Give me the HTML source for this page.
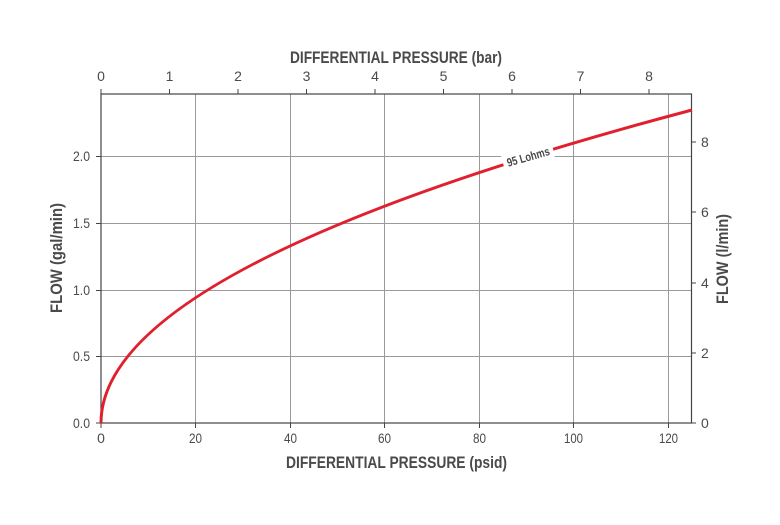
<!DOCTYPE html>
<html><head><meta charset="utf-8"><style>
html,body{margin:0;padding:0;background:#fff;}
svg text{font-family:"Liberation Sans Narrow","Liberation Sans",sans-serif;fill:#4a4a4a;}
</style></head><body>
<svg width="780" height="520" viewBox="0 0 780 520" xmlns="http://www.w3.org/2000/svg">
<g stroke="#9a9a9a" stroke-width="1">
<line x1="195.5" y1="94" x2="195.5" y2="423"/><line x1="290.5" y1="94" x2="290.5" y2="423"/>
<line x1="384.5" y1="94" x2="384.5" y2="423"/><line x1="479.5" y1="94" x2="479.5" y2="423"/>
<line x1="573.5" y1="94" x2="573.5" y2="423"/><line x1="668.5" y1="94" x2="668.5" y2="423"/>
<line x1="101" y1="356.5" x2="691" y2="356.5"/><line x1="101" y1="290.5" x2="691" y2="290.5"/>
<line x1="101" y1="223.5" x2="691" y2="223.5"/><line x1="101" y1="156.5" x2="691" y2="156.5"/>
</g>
<rect x="101" y="94" width="590.5" height="329" fill="none" stroke="#444" stroke-width="1.2"/>
<g stroke="#444" stroke-width="1">
<line x1="101" y1="423" x2="101" y2="428"/><line x1="195.5" y1="423" x2="195.5" y2="428"/><line x1="290.5" y1="423" x2="290.5" y2="428"/><line x1="384.5" y1="423" x2="384.5" y2="428"/><line x1="479.5" y1="423" x2="479.5" y2="428"/><line x1="573.5" y1="423" x2="573.5" y2="428"/><line x1="668.5" y1="423" x2="668.5" y2="428"/>
<line x1="96" y1="423" x2="101" y2="423"/><line x1="96" y1="356.5" x2="101" y2="356.5"/><line x1="96" y1="290.5" x2="101" y2="290.5"/><line x1="96" y1="223.5" x2="101" y2="223.5"/><line x1="96" y1="156.5" x2="101" y2="156.5"/>
<line x1="101" y1="89" x2="101" y2="94"/><line x1="169.5" y1="89" x2="169.5" y2="94"/><line x1="238" y1="89" x2="238" y2="94"/><line x1="306.5" y1="89" x2="306.5" y2="94"/><line x1="375" y1="89" x2="375" y2="94"/><line x1="443.5" y1="89" x2="443.5" y2="94"/><line x1="512" y1="89" x2="512" y2="94"/><line x1="580.5" y1="89" x2="580.5" y2="94"/><line x1="649" y1="89" x2="649" y2="94"/>
<line x1="691" y1="423" x2="696" y2="423"/><line x1="691" y1="353" x2="696" y2="353"/><line x1="691" y1="283" x2="696" y2="283"/><line x1="691" y1="212" x2="696" y2="212"/><line x1="691" y1="142" x2="696" y2="142"/>
</g>
<path d="M101,423 Q101,266.5 692,110" fill="none" stroke="#e0202e" stroke-width="3"/>
<g transform="translate(528,156) rotate(-16)">
<rect x="-26" y="-9" width="52" height="17" fill="#fff"/>
<text x="-22" y="5" font-size="12" font-weight="bold" textLength="44" lengthAdjust="spacingAndGlyphs">95 Lohms</text>
</g>
<g font-size="14" text-anchor="middle">
<text x="101" y="443">0</text><text x="195.5" y="443" textLength="13" lengthAdjust="spacingAndGlyphs">20</text><text x="290.5" y="443" textLength="13" lengthAdjust="spacingAndGlyphs">40</text><text x="384.5" y="443" textLength="13" lengthAdjust="spacingAndGlyphs">60</text><text x="479.5" y="443" textLength="13" lengthAdjust="spacingAndGlyphs">80</text><text x="573.5" y="443" textLength="19" lengthAdjust="spacingAndGlyphs">100</text><text x="668.5" y="443" textLength="19" lengthAdjust="spacingAndGlyphs">120</text>
<text x="101" y="81">0</text><text x="169.5" y="81">1</text><text x="238" y="81">2</text><text x="306.5" y="81">3</text><text x="375" y="81">4</text><text x="443.5" y="81">5</text><text x="512" y="81">6</text><text x="580.5" y="81">7</text><text x="649" y="81">8</text>
</g>
<g font-size="14" text-anchor="end">
<text x="90" y="428" textLength="17" lengthAdjust="spacingAndGlyphs">0.0</text><text x="90" y="361" textLength="17" lengthAdjust="spacingAndGlyphs">0.5</text><text x="90" y="295" textLength="17" lengthAdjust="spacingAndGlyphs">1.0</text><text x="90" y="228" textLength="17" lengthAdjust="spacingAndGlyphs">1.5</text><text x="90" y="161" textLength="17" lengthAdjust="spacingAndGlyphs">2.0</text>
</g>
<g font-size="14" text-anchor="start">
<text x="701" y="428">0</text><text x="701" y="358">2</text><text x="701" y="288">4</text><text x="701" y="217">6</text><text x="701" y="147">8</text>
</g>
<g font-size="17" font-weight="bold" fill="#4a4a4a">
<text x="286" y="468" textLength="221" lengthAdjust="spacingAndGlyphs">DIFFERENTIAL PRESSURE (psid)</text>
<text x="290" y="63" textLength="212" lengthAdjust="spacingAndGlyphs">DIFFERENTIAL PRESSURE (bar)</text>
<text transform="translate(62,313) rotate(-90)" textLength="110" lengthAdjust="spacingAndGlyphs">FLOW (gal/min)</text>
<text transform="translate(728,304) rotate(-90)" textLength="90" lengthAdjust="spacingAndGlyphs">FLOW (l/min)</text>
</g>
</svg>
</body></html>
